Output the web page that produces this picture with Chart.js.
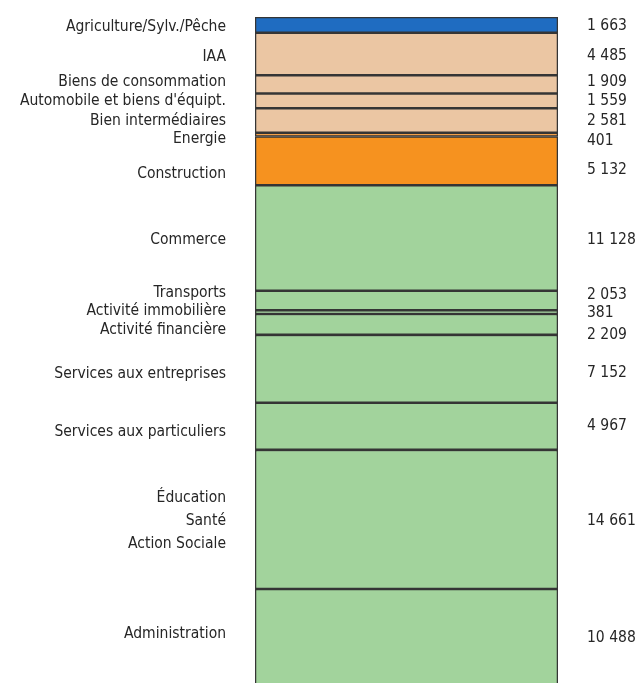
<!DOCTYPE html>
<html>
<head>
<meta charset="utf-8">
<script src="https://cdn.jsdelivr.net/npm/chart.js@4"></script>
<style>
  html, body { margin: 0; padding: 0; background: #fff; overflow: hidden; }
  #wrap { width: 636px; height: 683px; position: relative; }
</style>
</head>
<body>
<div id="wrap"><canvas id="chart"></canvas></div>
<script>
const sectors = [
    'Agriculture/Sylv./Pêche', 'IAA', 'Biens de consommation', "Automobile et biens d'équipt.",
    'Bien intermédiaires', 'Energie', 'Construction', 'Commerce', 'Transports',
    'Activité immobilière', 'Activité financière', 'Services aux entreprises',
    'Services aux particuliers', ['Éducation', 'Santé', 'Action Sociale'], 'Administration'
];
const jobs = [1663, 4485, 1909, 1559, 2581, 401, 5132, 11128, 2053, 381, 2209, 7152, 4967, 14661, 10488];
const groups = ['agri', 'ind', 'ind', 'ind', 'ind', 'nrj', 'cons', 'serv', 'serv', 'serv', 'serv', 'serv', 'serv', 'serv', 'serv'];

const groupColors = { agri: '#1f6cc1', ind: '#ebc6a3', nrj: '#f3a04a', cons: '#f6921f', serv: '#a2d39c' };

// small vertical nudges (px) so text sits like the printed figure
const leftNudge = [2, 3, -2, 0, 0, 4, 13, 2, -8, -1, 6, 5, 6, 2, -5];
const rightNudge = [1, 2, -2, 0, 0, 6, 9, 2, -6, 1, 11, 4, 0, 2, -1];

const FONT = '"Liberation Sans Narrow", "DejaVu Sans Condensed", "Roboto", sans-serif';

function fmt(v) {
    return String(v).replace(/\B(?=(\d{3})+(?!\d))/g, ' ');
}

const sideLabels = {
    id: 'sideLabels',
    afterDatasetsDraw(chart) {
        const ctx = chart.ctx;
        const y = chart.scales.y;
        const area = chart.chartArea;
        let start = 0;
        ctx.save();
        ctx.font = '15.5px ' + FONT;
        ctx.fillStyle = '#262626';
        ctx.textBaseline = 'middle';
        jobs.forEach((v, i) => {
            const mid = y.getPixelForValue(start + v / 2);
            start += v;
            const lines = Array.isArray(sectors[i]) ? sectors[i] : [sectors[i]];
            const lh = 23;
            ctx.textAlign = 'right';
            lines.forEach((t, k) => {
                ctx.fillText(t, area.left - 29, mid + leftNudge[i] + (k - (lines.length - 1) / 2) * lh);
            });
            ctx.textAlign = 'left';
            ctx.fillText(fmt(v), area.right + 29, mid + rightNudge[i]);
        });
        ctx.restore();
    }
};

new Chart(document.getElementById('chart').getContext('2d'), {
    type: 'bar',
    data: {
        labels: [''],
        datasets: jobs.map((v, i) => ({
            label: Array.isArray(sectors[i]) ? sectors[i].join(' ') : sectors[i],
            data: [v],
            backgroundColor: groupColors[groups[i]],
            borderColor: '#353535',
            borderWidth: 1.6,
            borderSkipped: false,
            barPercentage: 1,
            categoryPercentage: 1
        }))
    },
    options: {
        responsive: true,
        maintainAspectRatio: false,
        animation: false,
        layout: { padding: { left: 255, right: 78, top: 17, bottom: 0 } },
        scales: {
            x: { stacked: true, display: false },
            y: { stacked: true, display: false, reverse: true, min: 0, max: 70190 }
        },
        plugins: { legend: { display: false }, tooltip: { enabled: false } }
    },
    plugins: [sideLabels]
});
</script>
</body>
</html>
